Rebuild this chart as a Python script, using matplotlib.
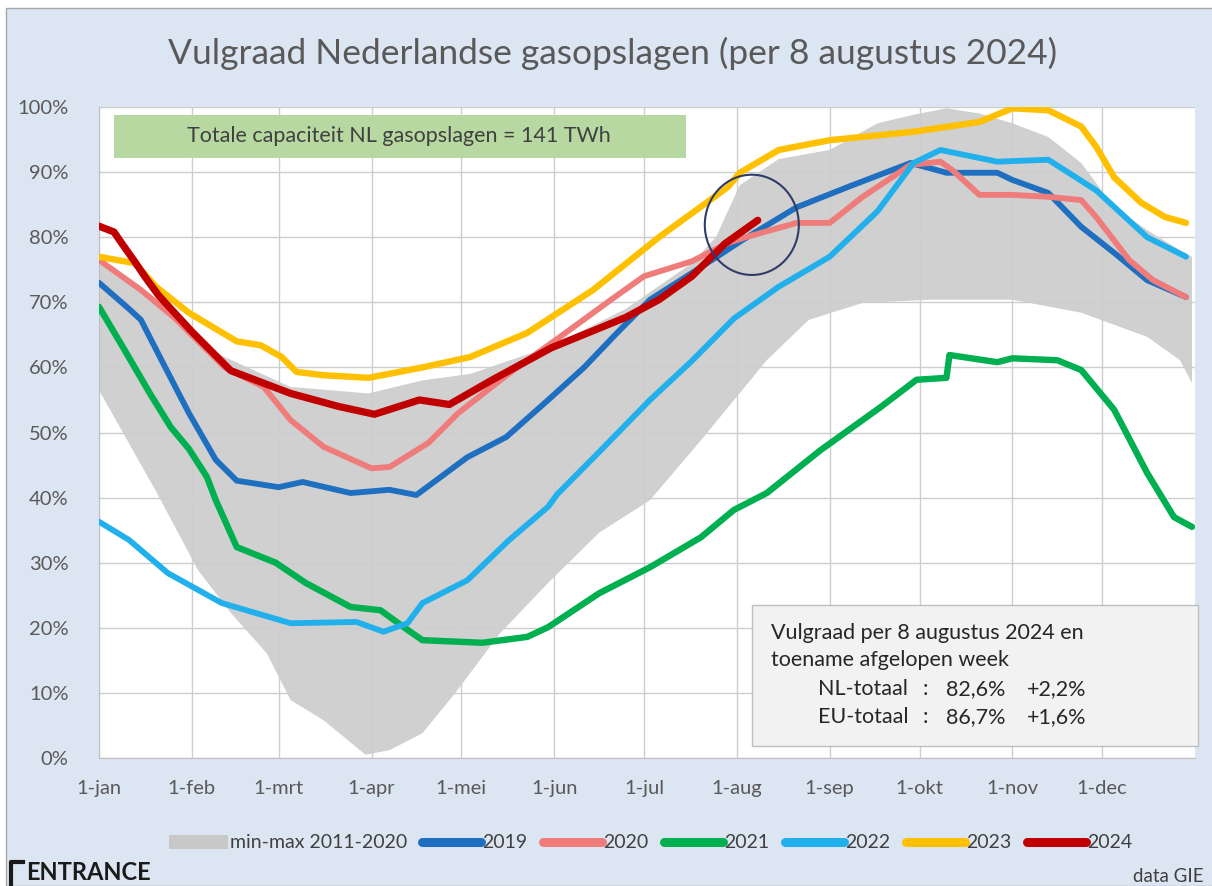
import numpy as np
import matplotlib
matplotlib.use("Agg")
from matplotlib import pyplot as plt
from matplotlib.patches import Patch, Rectangle, Ellipse
from matplotlib.lines import Line2D

plt.rcParams['font.family'] = ['Lato', 'DejaVu Sans']

# day of year (0 = 1 jan) and fill level in %
month_labels = ["1-jan", "1-feb", "1-mrt", "1-apr", "1-mei", "1-jun",
                "1-jul", "1-aug", "1-sep", "1-okt", "1-nov", "1-dec"]
month_lengths = [31, 29, 31, 30, 31, 30, 31, 31, 30, 31, 30, 31]

band_up_day = [0, 20, 40, 64, 90, 108, 124, 143, 150, 176, 198, 206, 214, 227, 244,
               260, 272, 283, 294, 305, 317, 328, 339, 350, 361, 365]
band_up_pct = [76, 70, 62, 57, 56, 58, 59, 62, 63, 69, 76, 80, 88, 92, 93.4,
               97.5, 98.8, 99.8, 99, 97.5, 95.4, 91.4, 84.6, 81.1, 78, 77]
band_lo_day = [0, 19, 33, 44, 56, 64, 75, 89, 97, 108, 119, 134, 150, 167, 184,
               201, 223, 237, 255, 278, 305, 328, 350, 361, 365]
band_lo_pct = [56.5, 41, 28.9, 22.3, 16.1, 8.9, 5.8, 0.5, 1.2, 3.8, 10, 19.2, 26.9,
               34.6, 39.6, 48.8, 61.1, 67.3, 69.9, 70.4, 70.4, 68.4, 64.7, 61.1, 57.6]

day_2019 = [0, 10, 14, 21, 30, 39, 46, 60, 68, 84, 97, 106, 123, 136, 150, 162, 173,
            184, 198, 215, 233, 250, 271, 283, 300, 305, 317, 328, 339, 350, 363]
pct_2019 = [73, 69, 67.3, 61, 53, 45.8, 42.6, 41.6, 42.4, 40.7, 41.2, 40.4, 46.2,
            49.3, 55, 60, 65.3, 70.4, 74.5, 79.6, 84.6, 87.7, 91.4, 89.9, 89.9, 88.8,
            86.8, 81.6, 77.6, 73.4, 70.8]

day_2020 = [0, 14, 25, 42, 55, 64, 75, 91, 97, 110, 120, 137, 154, 171, 182, 198,
            210, 216, 233, 244, 255, 271, 281, 285, 294, 305, 317, 328, 333, 344, 352, 363]
pct_2020 = [76.5, 71.9, 67.7, 60, 57, 51.9, 47.8, 44.5, 44.7, 48.4, 53, 59.1, 64.7,
            70.4, 74, 76.3, 79.1, 80, 82.2, 82.2, 86.2, 91.1, 91.6, 90.3, 86.5, 86.5,
            86.2, 85.7, 83.1, 76.5, 73.4, 70.8]

day_2021 = [0, 8, 17, 24, 30, 36, 39, 46, 59, 69, 84, 94, 103, 108, 128, 143, 150, 167,
            184, 201, 212, 223, 241, 261, 273, 283, 284, 300, 305, 320, 328, 339, 350,
            359, 365]
pct_2021 = [69.3, 63.1, 56, 50.8, 47.5, 43.2, 39.6, 32.4, 30, 26.9, 23.2, 22.7, 19.7, 18.1,
            17.7, 18.6, 20.1, 25.3, 29.3, 33.9, 38.1, 40.7, 47.3, 53.9, 58.1, 58.4,
            61.9, 60.8, 61.4, 61.1, 59.6, 53.5, 43.8, 37, 35.5]

day_2022 = [0, 10, 23, 41, 64, 86, 95, 103, 108, 123, 137, 150, 153, 167, 184, 198,
            212, 227, 244, 260, 272, 281, 300, 317, 333, 350, 363]
pct_2022 = [36.3, 33.5, 28.4, 23.8, 20.7, 20.9, 19.4, 20.7, 23.8, 27.3, 33.5, 38.6,
            40.5, 47, 55, 61, 67.5, 72.4, 77, 84, 91.4, 93.4, 91.6, 91.9, 87.2, 80, 77]

day_2023 = [0, 12, 19, 30, 46, 54, 61, 66, 75, 90, 108, 124, 143, 165, 187, 210, 214,
            227, 244, 272, 294, 305, 317, 328, 333, 339, 348, 356, 363]
pct_2023 = [77, 76, 72.4, 68.4, 64, 63.4, 61.6, 59.3, 58.8, 58.4, 60, 61.6, 65.3, 71.9,
            80, 87.7, 89.9, 93.4, 94.9, 96.2, 97.7, 99.8, 99.5, 97, 93.9, 89.2, 85.3,
            83.1, 82.2]

day_2024 = [0, 5, 8, 12, 16, 20, 31, 44, 64, 80, 92, 107, 117, 131, 151, 176, 187, 198,
            209, 220]
pct_2024 = [81.7, 80.8, 78.8, 76.2, 73.5, 71, 65.5, 59.5, 56, 54, 52.8, 55, 54.3, 58, 63,
            67.7, 70.4, 74, 79, 82.6]

series = [
    ("2019", day_2019, pct_2019, "#1F6FC0", 4.2),
    ("2020", day_2020, pct_2020, "#EF7B7B", 4.2),
    ("2021", day_2021, pct_2021, "#00B050", 4.6),
    ("2022", day_2022, pct_2022, "#22B0EC", 4.2),
    ("2023", day_2023, pct_2023, "#FFC000", 4.6),
    ("2024", day_2024, pct_2024, "#C00000", 5.2),
]

BG = "#DCE6F2"
TXT = "#595959"

fig = plt.figure(figsize=(12.12, 8.86), dpi=100, facecolor="white")
fig.patches.append(Rectangle((6 / 1212, 0), 1, 1 - 8 / 886, transform=fig.transFigure,
                             facecolor=BG, edgecolor="#A6A6A6", lw=1, zorder=-10))

ax = fig.add_axes([99 / 1212, 1 - 758 / 886, 1096 / 1212, 651 / 886])
ax.set_facecolor("white")

ax.fill(np.r_[band_up_day, band_lo_day[::-1]], np.r_[band_up_pct, band_lo_pct[::-1]],
        color="#D0D0D0", lw=0, zorder=1)
for name, d, p, c, lw in series:
    ax.plot(d, p, color=c, lw=lw, solid_capstyle="round", solid_joinstyle="round", zorder=3)

ax.set_xlim(0, 366)
ax.set_ylim(0, 100)
ax.set_xticks(np.cumsum([0] + month_lengths[:-1]))
ax.set_xticklabels(month_labels)
ax.set_yticks(np.arange(0, 101, 10))
ax.set_yticklabels([f"{v}%" for v in range(0, 101, 10)])
ax.tick_params(length=0, labelsize=14.5, labelcolor=TXT)
ax.tick_params(axis="x", pad=16)
ax.tick_params(axis="y", pad=22)
ax.set_axisbelow("line")
ax.grid(True, color="#CDCDCD", lw=1, zorder=2)
for s in ["top", "right"]:
    ax.spines[s].set_visible(False)
ax.spines["left"].set_color("#BFBFBF")
ax.spines["bottom"].set_color("#BFBFBF")

# circle around the latest value
ax.add_patch(Ellipse((218, 81.9), 31.4, 15.4, fill=False, edgecolor="#2F3C68", lw=1.5, zorder=6))

# capacity box
ax.add_patch(Rectangle((5, 92.2), 191, 6.6, facecolor="#B7D9A1", edgecolor="none", zorder=4))
ax.text(100, 95.5, "Totale capaciteit NL gasopslagen = 141 TWh", ha="center", va="center",
        fontsize=15.5, color="#404040", zorder=5)

# info box
ax.add_patch(Rectangle((218, 1.8), 149, 21.7, facecolor="#F2F2F2", edgecolor="#BFBFBF",
                       lw=1, zorder=4, clip_on=False))
info_color = "#262626"
fs = 15.5
ax.text(224.5, 19.2, "Vulgraad per 8 augustus 2024 en", fontsize=fs, color=info_color,
        va="center", zorder=5)
ax.text(224.5, 15.0, "toename afgelopen week", fontsize=fs, color=info_color,
        va="center", zorder=5)
for yy, lab, val, inc in [(10.6, "NL-totaal", "82,6%", "+2,2%"), (6.3, "EU-totaal", "86,7%", "+1,6%")]:
    ax.text(240, yy, lab, fontsize=fs, color=info_color, va="center", zorder=5)
    ax.text(275, yy, ":", fontsize=fs, color=info_color, va="center", zorder=5)
    ax.text(283, yy, val, fontsize=fs, color=info_color, va="center", zorder=5)
    ax.text(310, yy, inc, fontsize=fs, color=info_color, va="center", zorder=5)

fig.text(613 / 1212, 1 - 53 / 886, "Vulgraad Nederlandse gasopslagen (per 8 augustus 2024)",
         ha="center", va="center", fontsize=25.5, color=TXT)

handles = [Patch(facecolor="#C8C8C8", edgecolor="none", label="min-max 2011-2020")]
for name, d, p, c, lw in series:
    handles.append(Line2D([], [], color=c, lw=6.5, solid_capstyle="round", label=name))
fig.legend(handles=handles, loc="center", bbox_to_anchor=(651 / 1212, 1 - 843 / 886),
           ncol=7, frameon=False, fontsize=14, handlelength=3.0, handletextpad=0.1,
           columnspacing=0.8, labelcolor="#404040")

fig.text(26 / 1212, 1 - 873 / 886, "ENTRANCE", fontsize=17, fontweight="bold",
         color="#1A1A1A", va="center", ha="left")
fig.add_artist(Line2D([11 / 1212, 11 / 1212, 23 / 1212], [1 - 885 / 886, 1 - 862 / 886, 1 - 862 / 886],
                      transform=fig.transFigure, color="#1A1A1A", lw=3))
fig.text(1204 / 1212, 1 - 876 / 886, "data GIE", fontsize=13.5, color="#404040",
         va="center", ha="right")

fig.savefig("out.png", dpi=100, facecolor=fig.get_facecolor())
